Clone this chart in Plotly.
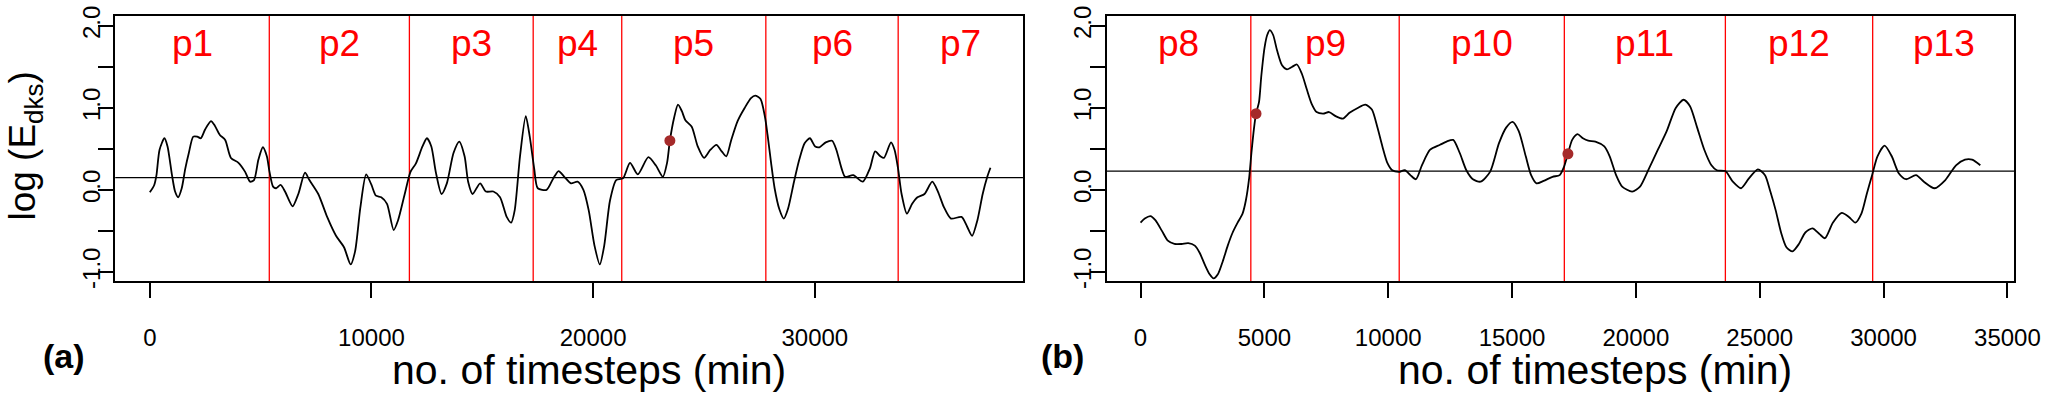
import plotly.graph_objects as go
from plotly.subplots import make_subplots

W, H = 2067, 393
FONT = "Liberation Sans, Arial, sans-serif"

# ---- panel (a) ----
a_x = [0, 200, 300, 440, 660, 800, 1000, 1140, 1280, 1440, 1600, 1760, 1960, 2140,
       2300, 2500, 2760, 2940, 3160, 3400, 3660, 4000, 4300, 4520, 4700, 4900, 5100,
       5280, 5400, 5560, 5700, 5900, 6100, 6440, 6700, 7000, 7200, 7600, 8000, 8400,
       8760, 9060, 9260, 9500, 9760, 10000, 10200, 10440, 10700, 11000, 11200, 11500,
       11760, 12000, 12300, 12500, 12700, 12900, 13160, 13400, 13700, 13960, 14200,
       14360, 14560, 14900, 15160, 15500, 15800, 16100, 16300, 16460, 16700, 16960,
       17140, 17340, 17500, 17900, 18200, 18440, 18700, 19000, 19300, 19560, 19800,
       20060, 20300, 20500, 20760, 21040, 21345, 21663, 22013, 22490, 22825, 23143,
       23334, 23461, 23652, 23827, 24002, 24161, 24447, 24718, 25004, 25291, 25561,
       25800, 26007, 26230, 26516, 26834, 27120, 27311, 27550, 27757, 27868, 28027,
       28186, 28393, 28600, 28791, 29061, 29300, 29539, 29778, 30016, 30207, 30493,
       30780, 30970, 31209, 31368, 31734, 32164, 32482, 32721, 32959, 33118, 33437,
       33596, 33755, 33914, 34153, 34391, 34630, 34948, 35298, 35553, 35823, 36141,
       36618, 36857, 37096, 37335, 37573, 37780, 37923]
a_y = [-0.03, 0.06, 0.18, 0.49, 0.63, 0.53, 0.18, -0.02, -0.09, 0.02, 0.26, 0.45, 0.65, 0.65,
       0.63, 0.74, 0.84, 0.78, 0.67, 0.61, 0.39, 0.33, 0.22, 0.10, 0.12, 0.37, 0.52,
       0.41, 0.22, 0.04, 0.02, 0.06, -0.02, -0.20, -0.05, 0.21, 0.12, -0.05, -0.33, -0.56,
       -0.70, -0.91, -0.75, -0.21, 0.19, 0.06, -0.07, -0.09, -0.17, -0.49, -0.37, -0.05,
       0.22, 0.32, 0.53, 0.63, 0.53, 0.22, -0.05, 0.08, 0.45, 0.59, 0.41,
       0.10, -0.05, 0.08, -0.02, -0.02, -0.09, -0.33, -0.40, -0.25, 0.41, 0.90,
       0.65, 0.26, 0.02, 0.00, 0.14, 0.23, 0.16, 0.08, 0.10, 0.00, -0.25,
       -0.68, -0.91, -0.68, -0.13, 0.12, 0.14, 0.33, 0.19, 0.40, 0.30, 0.16,
       0.33, 0.60, 0.88, 1.04, 0.96, 0.85, 0.77, 0.53, 0.39, 0.49, 0.55,
       0.47, 0.41, 0.61, 0.84, 1.00, 1.12, 1.15, 1.11, 0.88, 0.67, 0.33,
       0.02, -0.23, -0.35, -0.23, 0.10, 0.37, 0.57, 0.63, 0.53, 0.52, 0.58,
       0.60, 0.49, 0.26, 0.16, 0.18, 0.10, 0.26, 0.47, 0.41, 0.39, 0.58,
       0.49, 0.26, -0.05, -0.29, -0.17, -0.09, -0.05, 0.10, -0.02, -0.21, -0.35,
       -0.33, -0.44, -0.56, -0.37, -0.05, 0.16, 0.27]
a_cuts = [5390, 11710, 17295, 21290, 27790, 33760]
a_names = ["p1", "p2", "p3", "p4", "p5", "p6", "p7"]
a_level = 0.15
a_dot_x = [23461]
a_dot_y = [0.60]
a_xticks = [0, 10000, 20000, 30000]
a_range = [-1560, 39390]

# ---- panel (b) ----
b_x = [0, 172, 398, 598, 863, 1102, 1368, 1661, 1926, 2192, 2391, 2590, 2790, 2949,
       3122, 3321, 3521, 3720, 3920, 4119, 4252, 4384, 4477, 4584, 4663, 4783, 4876,
       5009, 5115, 5221, 5354, 5514, 5713, 5912, 6112, 6311, 6510, 6709, 6909, 7108,
       7374, 7613, 7879, 8171, 8437, 8769, 9075, 9340, 9566, 9765, 9965, 10164, 10430,
       10669, 10895, 11121, 11360, 11692, 12091, 12357, 12623, 12889, 13154, 13420,
       13725, 14112, 14473, 14761, 15021, 15266, 15554, 15770, 15987, 16275, 16635,
       16924, 17097, 17255, 17428, 17644, 17860, 18077, 18365, 18725, 18942, 19201,
       19446, 19850, 20167, 20528, 20888, 21248, 21609, 21926, 22185, 22474, 22762,
       23050, 23266, 23613, 23915, 24247, 24564, 24925, 25213, 25429, 25645, 25861,
       26078, 26323, 26582, 26842, 27130, 27418, 27634, 27952, 28312, 28600, 28860,
       29105, 29321, 29537, 29754, 30042, 30330, 30619, 30907, 31311, 31628, 32060,
       32493, 32925, 33286, 33574, 33906]
b_y = [-0.40, -0.35, -0.32, -0.37, -0.50, -0.62, -0.66, -0.66, -0.65, -0.68, -0.77, -0.91, -1.03, -1.08,
       -1.03, -0.87, -0.68, -0.52, -0.40, -0.29, -0.13, 0.14, 0.45, 0.76, 0.93, 1.07, 1.39,
       1.74, 1.89, 1.95, 1.89, 1.70, 1.52, 1.47, 1.50, 1.53, 1.42, 1.23, 1.05, 0.95,
       0.93, 0.95, 0.90, 0.87, 0.94, 1.00, 1.04, 0.98, 0.76, 0.53, 0.33, 0.24, 0.22,
       0.24, 0.18, 0.13, 0.30, 0.49, 0.55, 0.59, 0.61, 0.45, 0.24, 0.13,
       0.10, 0.22, 0.57, 0.76, 0.83, 0.72, 0.41, 0.18, 0.08, 0.11, 0.16,
       0.18, 0.28, 0.44, 0.61, 0.68, 0.63, 0.60, 0.59, 0.53, 0.41, 0.18,
       0.04, -0.02, 0.04, 0.26, 0.49, 0.72, 1.00, 1.10, 1.02, 0.76, 0.49,
       0.30, 0.24, 0.23, 0.10, 0.02, 0.14, 0.25, 0.18, -0.02, -0.25, -0.52,
       -0.70, -0.75, -0.66, -0.52, -0.47, -0.54, -0.59, -0.40, -0.28, -0.33, -0.40,
       -0.29, -0.05, 0.18, 0.41, 0.54, 0.41, 0.20, 0.13, 0.18, 0.10, 0.02,
       0.12, 0.30, 0.37, 0.37, 0.30]
b_cuts = [4453, 10444, 17111, 23613, 29560]
b_names = ["p8", "p9", "p10", "p11", "p12", "p13"]
b_level = 0.23
b_dot_x = [4663, 17255]
b_dot_y = [0.93, 0.44]
b_xticks = [0, 5000, 10000, 15000, 20000, 25000, 30000, 35000]
b_range = [-1370, 35280]

y_ticks = [-1.0, 0.0, 1.0, 2.0]
y_ticktext = ["-1.0", "0.0", "1.0", "2.0"]
y_minor = [-0.5, 0.5, 1.5]
y_range = [-1.117, 2.125]
label_y = 1.786


def px(x):
    return x / W


def py(y):
    return 1 - y / H


fig = make_subplots(rows=1, cols=2)

panels = [
    (1, a_x, a_y, a_cuts, a_names, a_level, a_dot_x, a_dot_y, a_xticks, a_range, "x", "y"),
    (2, b_x, b_y, b_cuts, b_names, b_level, b_dot_x, b_dot_y, b_xticks, b_range, "x2", "y2"),
]

for col, xs, ys, cuts, names, level, dx, dy, xticks, xr, xref, yref in panels:
    fig.add_trace(go.Scatter(x=xs, y=ys, mode="lines",
                             line=dict(color="black", width=1.8, shape="spline", smoothing=0.7),
                             hoverinfo="skip"), row=1, col=col)
    fig.add_trace(go.Scatter(x=dx, y=dy, mode="markers",
                             marker=dict(color="#A52A2A", size=11, symbol="circle"),
                             hoverinfo="skip"), row=1, col=col)
    fig.add_hline(y=level, line=dict(color="black", width=1.3), layer="below", row=1, col=col)
    for c in cuts:
        fig.add_vline(x=c, line=dict(color="#FF0000", width=1.3), layer="below", row=1, col=col)
    edges = [xr[0]] + cuts + [xr[1]]
    for i, name in enumerate(names):
        fig.add_annotation(x=(edges[i] + edges[i + 1]) / 2, y=label_y, xref=xref, yref=yref,
                           text=name, showarrow=False, xanchor="center", yanchor="middle",
                           font=dict(size=37, color="#FF0000", family=FONT))
    fig.update_xaxes(range=xr, tickvals=xticks, ticktext=[str(t) for t in xticks],
                     row=1, col=col)

axis_style = dict(showline=True, linecolor="black", linewidth=2, mirror=True,
                  ticks="outside", ticklen=15, tickwidth=1.5, tickcolor="black",
                  showgrid=False, zeroline=False,
                  tickfont=dict(size=24, color="black", family=FONT))
fig.update_xaxes(**axis_style, ticklabelstandoff=19)
fig.update_yaxes(**axis_style, range=y_range, tickvals=y_ticks, ticktext=y_ticktext,
                 tickangle=-90, ticklabelstandoff=-11, ticklabeloverflow="allow",
                 minor=dict(tickvals=y_minor, ticks="outside", ticklen=15, tickwidth=1.5,
                            tickcolor="black", showgrid=False))

fig.update_layout(
    xaxis=dict(domain=[px(116.7), px(1036)]),
    xaxis2=dict(domain=[px(1120.7), px(2040)]),
    yaxis=dict(domain=[py(283.7), py(6)]),
    yaxis2=dict(domain=[py(283.7), py(6)]),
)

# titles and panel tags
fig.add_annotation(x=px(25), y=py(142), xref="paper", yref="paper", textangle=-90,
                   text="log (E<sub>dks</sub>)", showarrow=False,
                   xanchor="center", yanchor="middle",
                   font=dict(size=37, color="black", family=FONT))
for cx, tag, tx in [(65, "(a)", 597), (1076, "(b)", 1615)]:
    fig.add_annotation(x=px(cx), y=py(362), xref="paper", yref="paper", text="<b>%s</b>" % tag,
                       showarrow=False, xanchor="center", yanchor="middle",
                       font=dict(size=34, color="black", family=FONT))
    fig.add_annotation(x=px(tx), y=py(376), xref="paper", yref="paper",
                       text="no. of timesteps (min)", showarrow=False,
                       xanchor="center", yanchor="middle",
                       font=dict(size=41, color="black", family=FONT))

fig.update_layout(width=W, height=H, margin=dict(l=0, r=0, t=0, b=0),
                  paper_bgcolor="white", plot_bgcolor="white", showlegend=False,
                  font=dict(family=FONT))

fig.write_html("out.html", config={"displayModeBar": False},
               post_script="document.body.style.margin='0';document.body.style.overflow='hidden';")
